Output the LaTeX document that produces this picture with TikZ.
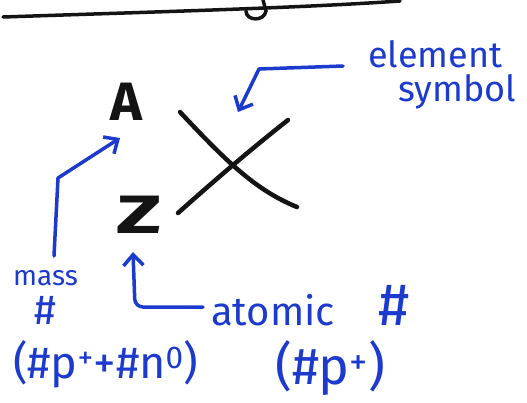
\documentclass[tikz,border=0pt]{standalone}
\usepackage{fontspec}
\usepackage{graphicx}
\setmainfont{Fira Sans}
\usetikzlibrary{arrows.meta}
\definecolor{ink}{RGB}{28,58,205}
\definecolor{pen}{RGB}{20,20,20}
\begin{document}
\begin{tikzpicture}[x=1pt,y=-1pt,
  note/.style={text=ink,inner sep=0pt},
  sym/.style={text=pen,inner sep=0pt,font=\fontsize{54}{54}\selectfont\bfseries},
  stroke/.style={draw=pen,line width=4.5pt,line cap=round},
  bluearrow/.style={draw=ink,line width=3.5pt,line cap=round,line join=round,
    -{Straight Barb[length=11pt,width=20pt,line width=3.5pt]}}]
\useasboundingbox[fill=white] (0,0) rectangle (527,402);
% top rule and cut-off letter
\draw[stroke,line width=3.5pt] (3,17) .. controls (150,12) and (300,8) .. (400,1);
\draw[stroke,line width=3.5pt] (263,0) -- (266,11) .. controls (264,22) and (246,21) .. (246,11);
% element symbol X
\draw[stroke] (180,112) .. controls (225,160) and (255,190) .. (297,207);
\draw[stroke] (288,120) .. controls (250,150) and (215,180) .. (178,213);
% A and Z
\node[sym] (A) at (126,102) {A};
\node[sym] (Z) at (139,215) {\scalebox{1.55}[1]{Z}};
% labels
\node[note,anchor=base west,font=\fontsize{36}{36}\selectfont] (element) at (368,67) {element};
\node[note,anchor=base west,font=\fontsize{36}{36}\selectfont] (symbol) at (398,101) {symbol};
\node[note,anchor=base west,font=\fontsize{28}{28}\selectfont] (mass) at (13,285) {mass};
\node[note,anchor=base,font=\fontsize{42}{42}\selectfont] (masshash) at (45,324) {\#};
\node[note,anchor=base west,font=\fontsize{45}{45}\selectfont] (massdef) at (13,378) {(\#p\textsuperscript{+}+\#n\textsuperscript{0})};
\node[note,anchor=base west,font=\fontsize{40}{40}\selectfont] (atomic) at (211,325) {atomic\hspace{44pt}{\fontsize{60}{60}\selectfont\#}};
\node[note,anchor=base west,font=\fontsize{52}{52}\selectfont] (atomicdef) at (275,384) {(\#p\textsuperscript{+})};
% arrows
\coordinate (es) at (343,66);
\coordinate (eb) at (259,69);
\coordinate (et) at (238,112);
\draw[bluearrow] (es) -- (eb) -- (et);
\coordinate (ms) at (54,256);
\coordinate (mb) at (58,178);
\coordinate (mt) at (120,138);
\draw[bluearrow] (ms) -- (mb) -- (mt);
\coordinate (as) at (203,307);
\coordinate (ab) at (135,307);
\coordinate (at) at (133,252);
\draw[bluearrow,rounded corners=8pt] (as) -- (ab) -- (at);
\end{tikzpicture}
\end{document}
